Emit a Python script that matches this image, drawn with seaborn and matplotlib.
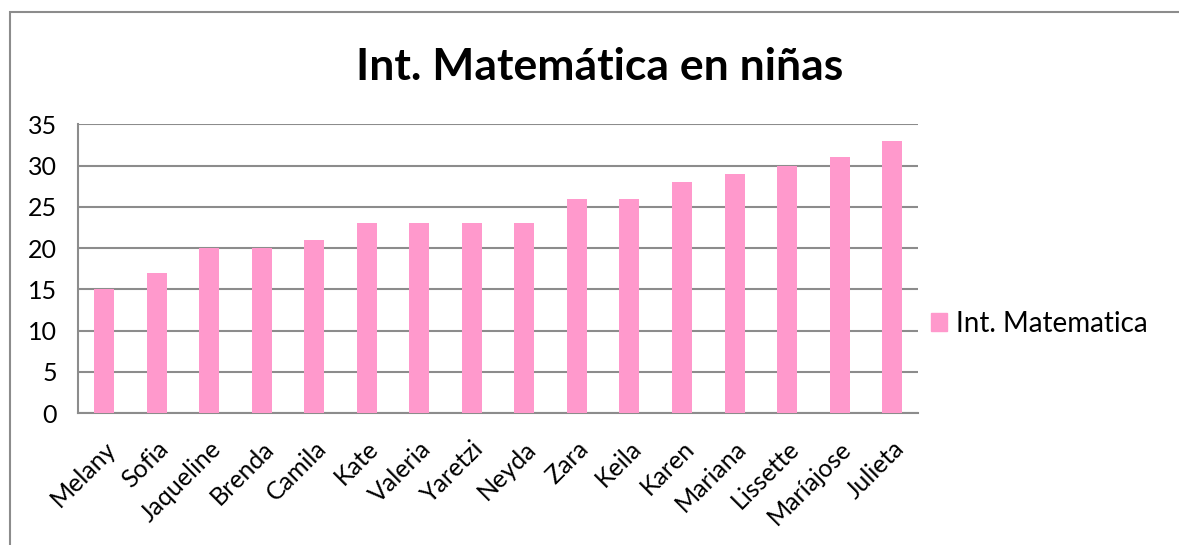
import pandas as pd
import matplotlib
matplotlib.use('Agg')
import matplotlib.pyplot as plt
import seaborn as sns
from matplotlib.patches import Rectangle, Patch

# data
nombres = ['Melany', 'Sofia', 'Jaqueline', 'Brenda', 'Camila', 'Kate', 'Valeria',
           'Yaretzi', 'Neyda', 'Zara', 'Keila', 'Karen', 'Mariana', 'Lissette',
           'Maríajose', 'Julieta']
valores = [15, 17, 20, 20, 21, 23, 23, 23, 23, 26, 26, 28, 29, 30, 31, 33]
serie = 'Int. Matematica'
titulo = 'Int. Matemática en niñas'

df = pd.DataFrame({'nombre': nombres, 'valor': valores})

sns.set_style('white')
plt.rcParams['font.family'] = ['Lato', 'DejaVu Sans']
plt.rcParams['text.color'] = 'black'
plt.rcParams['xtick.color'] = 'black'
plt.rcParams['ytick.color'] = 'black'

rosa = '#FF99CC'
gris = '#8C8C8C'

fig = plt.figure(figsize=(11.79, 5.45), dpi=100)
ax = fig.add_axes([0.066, 0.242, 0.713, 0.530])

sns.barplot(data=df, x='nombre', y='valor', color=rosa, width=0.38,
            saturation=1, linewidth=0, ax=ax, zorder=3)

ax.set_ylim(0, 35)
ax.set_yticks(range(0, 36, 5))
ax.set_xlim(-0.5, len(nombres) - 0.5)
ax.yaxis.grid(True, color=gris, linewidth=1.5, zorder=0)
ax.set_axisbelow(True)
for s in ['top', 'right']:
    ax.spines[s].set_visible(False)
for s in ['left', 'bottom']:
    ax.spines[s].set_color(gris)
    ax.spines[s].set_linewidth(1.5)
ax.tick_params(length=0, labelsize=18)
ax.tick_params(axis='y', pad=15)
ax.tick_params(axis='x', pad=17)
plt.setp(ax.get_xticklabels(), rotation=45, ha='right', rotation_mode='anchor')
ax.set_xlabel('')
ax.set_ylabel('')

fig.text(0.509, 0.877, titulo, ha='center', va='center', fontsize=32,
         fontweight='bold')

ax.legend(handles=[Patch(color=rosa, label=serie)], loc='center left',
          bbox_to_anchor=(0.985, 0.31), frameon=False, fontsize=20,
          handlelength=0.6, handleheight=0.6, handletextpad=0.3)

# outer chart frame
fig.patches.append(Rectangle((0.0085, -0.05), 1.2, 1.028, transform=fig.transFigure,
                             fill=False, edgecolor=gris, linewidth=1.5))

fig.savefig('out.png', dpi=100)
